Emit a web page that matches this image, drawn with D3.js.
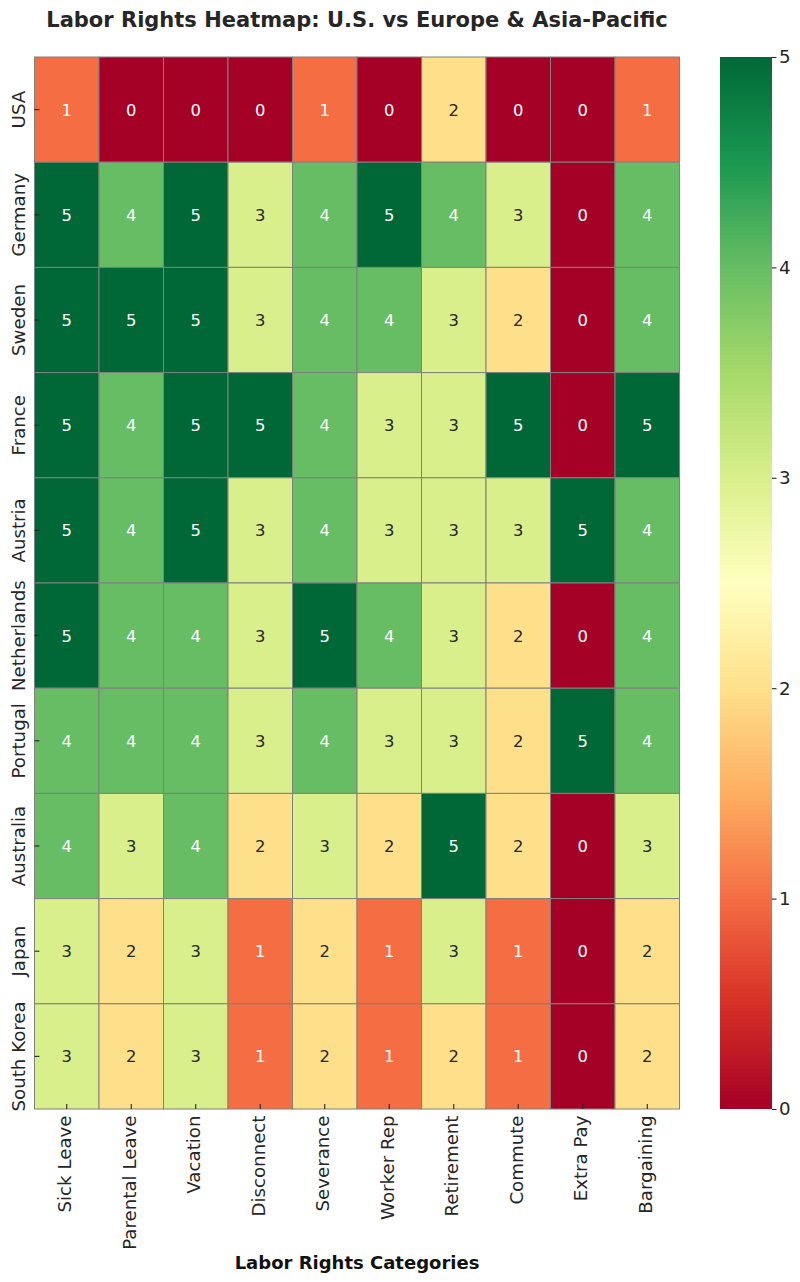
<!DOCTYPE html>
<html>
<head>
<meta charset="utf-8">
<script src="https://cdn.jsdelivr.net/npm/d3@7"></script>
<style>
  html, body { margin: 0; padding: 0; background: #fff; }
  svg { display: block; font-family: "DejaVu Sans", sans-serif; }
</style>
</head>
<body>
<svg id="chart" width="800" height="1282"></svg>
<script>
const countries = ["USA","Germany","Sweden","France","Austria","Netherlands","Portugal","Australia","Japan","South Korea"];
const categories = ["Sick Leave","Parental Leave","Vacation","Disconnect","Severance","Worker Rep","Retirement","Commute","Extra Pay","Bargaining"];
const usa         = [1,0,0,0,1,0,2,0,0,1];
const germany     = [5,4,5,3,4,5,4,3,0,4];
const sweden      = [5,5,5,3,4,4,3,2,0,4];
const france      = [5,4,5,5,4,3,3,5,0,5];
const austria     = [5,4,5,3,4,3,3,3,5,4];
const netherlands = [5,4,4,3,5,4,3,2,0,4];
const portugal    = [4,4,4,3,4,3,3,2,5,4];
const australia   = [4,3,4,2,3,2,5,2,0,3];
const japan       = [3,2,3,1,2,1,3,1,0,2];
const southKorea  = [3,2,3,1,2,1,2,1,0,2];
const colorbarTicks = [0,1,2,3,4,5];
const titleText = "Labor Rights Heatmap: U.S. vs Europe & Asia-Pacific";
const xLabelText = "Labor Rights Categories";

(function () {
const rows = [usa, germany, sweden, france, austria, netherlands, portugal, australia, japan, southKorea];
const cells = [];
rows.forEach((r, i) => r.forEach((v, j) => cells.push({country: countries[i], category: categories[j], value: v})));

const rdylgn = ["#a50026","#d73027","#f46d43","#fdae61","#fee08b","#ffffbf","#d9ef8b","#a6d96a","#66bd63","#1a9850","#006837"];
const color = d3.scaleLinear()
  .domain(d3.range(11).map(i => i * 0.5))
  .range(rdylgn)
  .interpolate(d3.interpolateRgb)
  .clamp(true);

const svg = d3.select("#chart");
const pL = 34.5, pR = 679.5, pT = 57, pB = 1109;
const tickFont = "18.2px";

const x = d3.scaleBand().domain(categories).range([pL, pR]).padding(0);
const y = d3.scaleBand().domain(countries).range([pT, pB]).padding(0);

svg.append("g").selectAll("rect").data(cells).join("rect")
  .attr("x", d => x(d.category))
  .attr("y", d => y(d.country))
  .attr("width", x.bandwidth())
  .attr("height", y.bandwidth())
  .attr("fill", d => color(d.value))
  .attr("stroke", "#808080")
  .attr("stroke-width", 1);

svg.append("g").selectAll("text").data(cells).join("text")
  .attr("x", d => x(d.category) + x.bandwidth() / 2)
  .attr("y", d => y(d.country) + y.bandwidth() / 2)
  .attr("dy", "0.36em")
  .attr("text-anchor", "middle")
  .attr("font-size", "16.4px")
  .attr("fill", d => (d.value === 2 || d.value === 3) ? "#262626" : "#ffffff")
  .text(d => d.value);

const yTicks = svg.append("g");
countries.forEach(c => {
  const cy = y(c) + y.bandwidth() / 2;
  yTicks.append("line").attr("x1", pL).attr("x2", pL + 4.9)
    .attr("y1", cy).attr("y2", cy).attr("stroke", "#262626").attr("stroke-width", 1.1);
  yTicks.append("text")
    .attr("transform", `translate(${pL - 9.5},${cy}) rotate(-90)`)
    .attr("text-anchor", "middle")
    .attr("font-size", tickFont)
    .attr("fill", "#262626")
    .text(c);
});

const xTicks = svg.append("g");
categories.forEach(c => {
  const cx = x(c) + x.bandwidth() / 2;
  xTicks.append("line").attr("x1", cx).attr("x2", cx)
    .attr("y1", pB).attr("y2", pB - 4.9).attr("stroke", "#262626").attr("stroke-width", 1.1);
  xTicks.append("text")
    .attr("transform", `translate(${cx + 4.5},${pB + 6.5}) rotate(-90)`)
    .attr("text-anchor", "end")
    .attr("font-size", tickFont)
    .attr("fill", "#262626")
    .text(c);
});

svg.append("text")
  .attr("x", (pL + pR) / 2).attr("y", 26.5)
  .attr("text-anchor", "middle")
  .attr("font-size", "21px").attr("font-weight", "bold")
  .attr("fill", "#262626")
  .text(titleText);

svg.append("text")
  .attr("x", (pL + pR) / 2).attr("y", 1268.5)
  .attr("text-anchor", "middle")
  .attr("font-size", "18px").attr("font-weight", "bold")
  .attr("fill", "#111")
  .text(xLabelText);

const cbLeft = 720, cbRight = 772;
const cbScale = d3.scaleLinear().domain([0, 5]).range([pB, pT]);
const defs = svg.append("defs");
const grad = defs.append("linearGradient").attr("id", "cbgrad")
  .attr("x1", 0).attr("y1", 1).attr("x2", 0).attr("y2", 0);
grad.selectAll("stop").data(rdylgn).join("stop")
  .attr("offset", (d, i) => i / 10)
  .attr("stop-color", d => d);
svg.append("rect")
  .attr("x", cbLeft).attr("y", cbScale(5))
  .attr("width", cbRight - cbLeft).attr("height", cbScale(0) - cbScale(5))
  .attr("fill", "url(#cbgrad)");

const cbAxis = d3.axisRight(cbScale).tickValues(colorbarTicks).tickSize(4.5).tickPadding(2.5).tickFormat(d3.format("d"));
const cbG = svg.append("g").attr("transform", `translate(${cbRight},0)`).call(cbAxis);
cbG.select(".domain").remove();
cbG.selectAll(".tick line").attr("stroke", "#262626").attr("stroke-width", 1.1);
cbG.selectAll(".tick text").attr("font-size", tickFont).attr("fill", "#262626")
  .attr("font-family", "DejaVu Sans, sans-serif");
})();
</script>
</body>
</html>
